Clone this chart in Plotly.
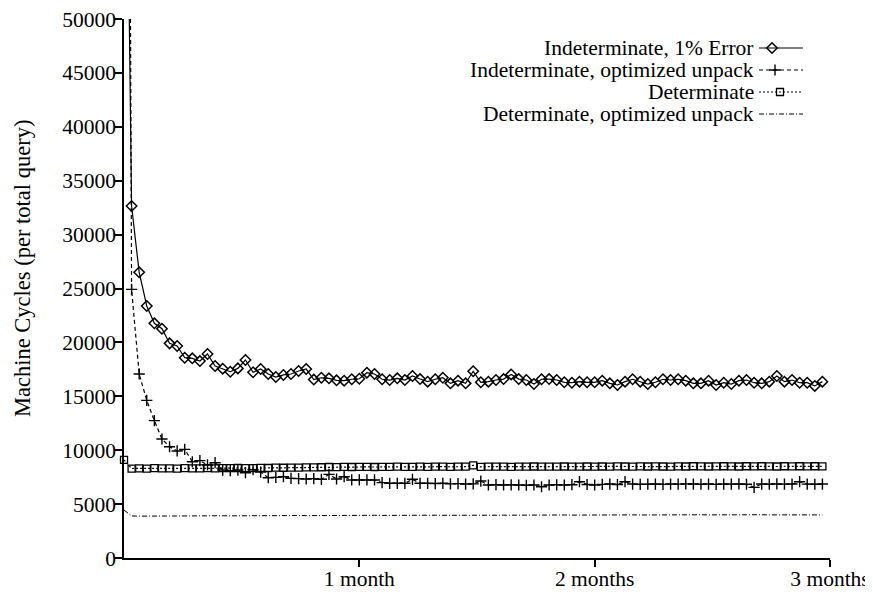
import plotly.graph_objects as go

# ---------------- data ----------------
days = list(range(93))

ind_err = [
    90000, 32650, 26500, 23380, 21770, 21270, 19910, 19670, 18580, 18520,
    18270, 18920, 17810, 17560, 17280, 17590, 18370, 17230, 17530, 17070,
    16790, 16980, 17070, 17350, 17530, 16550, 16720, 16670, 16480, 16450,
    16580, 16630, 17190, 17070, 16580, 16510, 16670, 16510, 16880, 16600,
    16360, 16580, 16720, 16200, 16450, 16200, 17320, 16300, 16360, 16510,
    16600, 17030, 16600, 16510, 16140, 16580, 16600, 16510, 16300, 16260,
    16360, 16300, 16300, 16450, 16200, 16050, 16360, 16580, 16360, 16140,
    16300, 16580, 16510, 16580, 16450, 16200, 16200, 16450, 16050, 16260,
    16140, 16450, 16510, 16260, 16200, 16360, 16880, 16360, 16510, 16260,
    16260, 15960, 16360,
]

ind_opt = [
    200000, 24920, 17070, 14620, 12740, 11040, 10320, 9930, 10080, 8930,
    9030, 8630, 8840, 8160, 8100, 8160, 7910, 8190, 7970, 7450,
    7480, 7540, 7390, 7360, 7330, 7360, 7300, 7760, 7330, 7540,
    7240, 7240, 7240, 7240, 6990, 6930, 6930, 6930, 7300, 6930,
    6930, 6900, 6930, 6880, 6900, 6860, 6880, 7140, 6770, 6800,
    6770, 6790, 6770, 6750, 6770, 6610, 6770, 6790, 6770, 6800,
    7080, 6820, 6770, 6830, 6860, 6820, 7080, 6860, 6830, 6850,
    6860, 6830, 6860, 6850, 6880, 6860, 6840, 6860, 6830, 6860,
    6850, 6870, 6840, 6550, 6860, 6840, 6870, 6850, 6860, 7080,
    6850, 6840, 6860,
]

det = [
    9100, 8300, 8320, 8300, 8330, 8310, 8320, 8300, 8330, 8320,
    8310, 8330, 8320, 8340, 8330, 8350, 8330, 8340, 8360, 8350,
    8380, 8370, 8390, 8380, 8400, 8410, 8420, 8440, 8430, 8450,
    8440, 8460, 8450, 8440, 8460, 8450, 8470, 8460, 8450, 8470,
    8460, 8480, 8470, 8460, 8480, 8470, 8600, 8460, 8470, 8480,
    8470, 8460, 8480, 8470, 8490, 8480, 8470, 8480, 8490, 8480,
    8470, 8490, 8480, 8490, 8480, 8500, 8490, 8480, 8500, 8490,
    8500, 8490, 8480, 8500, 8490, 8510, 8500, 8490, 8500, 8510,
    8500, 8490, 8510, 8500, 8510, 8500, 8490, 8510, 8500, 8510,
    8500, 8510, 8500,
]

det_opt = [
    4450, 3900, 3880, 3890, 3900, 3880, 3890, 3900, 3890, 3900,
    3910, 3900, 3910, 3920, 3910, 3920, 3910, 3920, 3930, 3920,
    3930, 3920, 3930, 3940, 3930, 3940, 3930, 3940, 3950, 3940,
    3950, 3940, 3950, 3960, 3950, 3960, 3950, 3960, 3950, 3960,
    3960, 3970, 3960, 3970, 3960, 3970, 3960, 3970, 3980, 3970,
    3970, 3980, 3970, 3980, 3970, 3980, 3990, 3980, 3990, 3980,
    3990, 3980, 3990, 3980, 3990, 4000, 3990, 4000, 3990, 4000,
    3990, 4000, 3990, 4000, 4010, 4000, 4010, 4000, 4010, 4000,
    4010, 4000, 4010, 4000, 4010, 4000, 4010, 4000, 4010, 4000,
    4010, 4000, 4000,
]

series_names = [
    "Indeterminate, 1% Error",
    "Indeterminate, optimized unpack",
    "Determinate",
    "Determinate, optimized unpack",
]
month_ticks = [31, 62, 93]
month_labels = ["1 month", "2 months", "3 months"]
y_ticks = list(range(0, 50001, 5000))
y_title = "Machine Cycles (per total query)"

# ---------------- styles ----------------
FONT = "Liberation Serif"
FS = 21.5
LFS = 21.5
TFS = 22.5
BLACK = "#000000"

styles = [
    dict(dash="solid", symbol="diamond-open", size=8, mw=1.5),
    dict(dash="4px,3px", symbol="cross-thin", size=8, mw=1.4),
    dict(dash="2px,2px", symbol="square-open", size=7, mw=1.3),
    dict(dash="5px,2px,1px,2px", symbol=None, size=0, mw=0),
]
data_series = [ind_err, ind_opt, det, det_opt]

fig = go.Figure()

for name, vals, st in zip(series_names, data_series, styles):
    if st["symbol"]:
        fig.add_trace(go.Scatter(
            x=days, y=vals, name=name, mode="lines+markers",
            line=dict(color=BLACK, width=1.2, dash=st["dash"]),
            marker=dict(symbol=st["symbol"], size=st["size"], color=BLACK,
                        line=dict(color=BLACK, width=st["mw"])),
            cliponaxis=(name != "Determinate"),
            showlegend=False,
        ))
    else:
        fig.add_trace(go.Scatter(
            x=days, y=vals, name=name, mode="lines",
            line=dict(color=BLACK, width=1.0, dash=st["dash"]),
            showlegend=False,
        ))

# ---------------- custom legend (text left of sample) ----------------
# overlay axes in page-pixel units for legend placement
row_y = [48, 70, 92, 114]
text_right = 755
samp_x0, samp_x1 = 759, 803
mark_x = [772, 775, 780, None]

for name, st, yy, mx in zip(series_names, styles, row_y, mark_x):
    fig.add_trace(go.Scatter(
        x=[samp_x0, samp_x1], y=[yy, yy], mode="lines",
        line=dict(color=BLACK, width=1.2, dash=st["dash"]),
        xaxis="x2", yaxis="y2", showlegend=False, hoverinfo="skip",
    ))
    if mx is not None:
        fig.add_trace(go.Scatter(
            x=[mx], y=[yy], mode="markers",
            marker=dict(symbol=st["symbol"], size=st["size"], color=BLACK,
                        line=dict(color=BLACK, width=st["mw"])),
            xaxis="x2", yaxis="y2", showlegend=False, hoverinfo="skip",
        ))
    fig.add_annotation(
        x=text_right, y=yy, xref="x2", yref="y2", text=name,
        showarrow=False, xanchor="right", yanchor="middle", borderpad=0,
        font=dict(family=FONT, size=LFS, color=BLACK),
    )

# y-axis title (paper coords; plot area spans page x 124..830, y 19..558)
fig.add_annotation(
    x=(22 - 124) / 706, y=(558 - 269) / 539, xref="paper", yref="paper",
    text=y_title, textangle=-90, borderpad=0,
    showarrow=False, xanchor="center", yanchor="middle",
    font=dict(family=FONT, size=TFS, color=BLACK),
)

# the page body has an 8px default margin, so the figure is offset by 8px
fig.update_layout(
    width=865, height=584,
    margin=dict(l=116, r=43, t=11, b=34, pad=0),
    paper_bgcolor="white", plot_bgcolor="white",
    font=dict(family=FONT, size=FS, color=BLACK),
    xaxis=dict(
        range=[0, 93], tickvals=month_ticks, ticktext=month_labels,
        showgrid=False, zeroline=False, showline=True, linecolor=BLACK,
        linewidth=1.5, ticks="outside", ticklen=7, tickwidth=1.5,
        tickcolor=BLACK, automargin=False, ticklabelstandoff=-7,
        ticklabeloverflow="allow",
        tickfont=dict(family=FONT, size=FS, color=BLACK),
    ),
    yaxis=dict(
        range=[0, 50000], tickvals=y_ticks,
        ticktext=[str(v) for v in y_ticks],
        showgrid=False, zeroline=False, showline=True, linecolor=BLACK,
        linewidth=1.5, ticks="outside", ticklen=7, tickwidth=1.5,
        tickcolor=BLACK, automargin=False, ticklabeloverflow="allow",
        ticklabelstandoff=-5,
        tickfont=dict(family=FONT, size=FS, color=BLACK),
    ),
    xaxis2=dict(range=[124, 830], overlaying="x", anchor="y2",
                visible=False, fixedrange=True),
    yaxis2=dict(range=[558, 19], overlaying="y", anchor="x2",
                visible=False, fixedrange=True),
)

fig.write_html("out.html")
